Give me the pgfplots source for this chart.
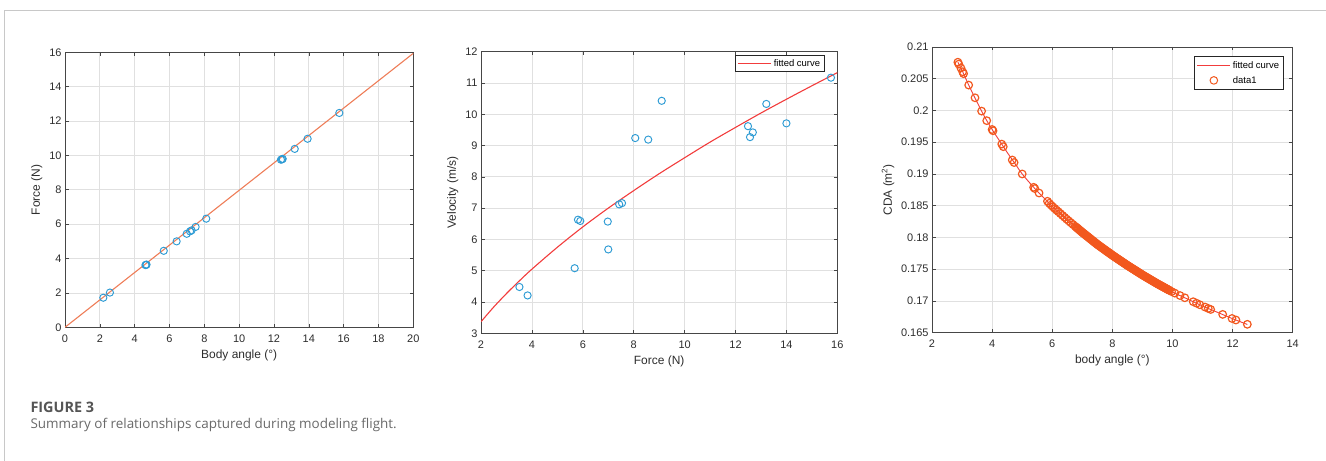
\documentclass[border=0pt]{standalone}
\usepackage{fontspec}
\setmainfont{Liberation Sans}
\newfontfamily\capfont{Open Sans}
\usepackage{pgfplots}
\usepackage{pgfplotstable}
\pgfplotsset{compat=1.18}
\definecolor{mblue}{RGB}{45,155,212}
\definecolor{lorange}{RGB}{238,125,88}
\definecolor{fitred}{RGB}{242,60,60}
\definecolor{dorange}{RGB}{242,88,30}
\definecolor{gridc}{RGB}{224,224,224}
\definecolor{axc}{RGB}{70,70,70}
\definecolor{tickc}{RGB}{45,45,45}
\definecolor{framec}{RGB}{200,200,200}

\pgfplotstableread[row sep=\\]{
x y\\
2.20 1.72\\ 2.58 2.02\\ 4.62 3.62\\ 4.68 3.65\\ 4.66 3.63\\ 5.67 4.45\\ 6.41 5.00\\
6.99 5.44\\ 7.18 5.58\\ 7.27 5.64\\ 7.50 5.84\\ 8.11 6.32\\ 12.40 9.75\\ 12.50 9.80\\
12.46 9.77\\ 13.19 10.38\\ 13.93 10.97\\ 15.75 12.47\\
}\forcedata

\pgfplotstableread[row sep=\\]{
x y\\
3.51 4.48\\ 3.83 4.21\\ 5.68 5.08\\ 5.81 6.63\\ 5.90 6.59\\ 6.98 6.57\\ 7.00 5.68\\
7.43 7.12\\ 7.54 7.16\\ 8.06 9.24\\ 8.57 9.19\\ 9.10 10.43\\ 12.49 9.62\\ 12.57 9.27\\
12.68 9.42\\ 13.21 10.33\\ 14.00 9.71\\ 15.75 11.17\\
}\veldata

\pgfplotstableread[row sep=\\]{
x y\\
2.0 3.37\\ 2.5 3.84\\ 3.0 4.27\\ 3.5 4.67\\ 4.0 5.05\\ 5.0 5.75\\ 6.0 6.40\\ 7.0 7.00\\
8.0 7.56\\ 9.0 8.10\\ 10.0 8.61\\ 11.0 9.11\\ 12.0 9.58\\ 13.0 10.04\\ 14.0 10.48\\
15.0 10.91\\ 16.0 11.33\\
}\velfit

\pgfplotstableread[row sep=\\]{
x y\\
2.86 0.2076\\ 3.00 0.2063\\ 3.25 0.2037\\ 3.50 0.2013\\ 3.75 0.1990\\ 4.00 0.1970\\
4.25 0.1952\\ 4.50 0.1934\\ 4.75 0.1917\\ 5.00 0.1900\\ 5.25 0.1886\\ 5.50 0.1873\\
5.75 0.1861\\ 6.00 0.1849\\ 6.50 0.1828\\ 7.00 0.1808\\ 7.50 0.1789\\ 8.00 0.1772\\
8.50 0.1756\\ 9.00 0.1741\\ 9.50 0.1727\\ 10.00 0.1714\\ 10.50 0.1703\\ 11.00 0.1692\\
11.50 0.1682\\ 12.00 0.1672\\ 12.49 0.1663\\
}\cdafit

\pgfplotstableread[row sep=\\]{
x y\\
2.86 0.2076\\ 2.89 0.2073\\ 2.96 0.2067\\ 3.02 0.2061\\ 3.05 0.2058\\ 3.22 0.2040\\
3.43 0.2020\\ 3.65 0.1999\\ 3.82 0.1984\\ 4.00 0.1970\\ 4.03 0.1968\\ 4.32 0.1947\\
4.37 0.1943\\ 4.67 0.1922\\ 4.73 0.1918\\ 5.00 0.1900\\ 5.38 0.1879\\ 5.42 0.1877\\
5.56 0.1870\\ 5.84 0.1857\\
5.90 0.18538\\ 5.96 0.18509\\ 6.02 0.18482\\ 6.08 0.18456\\ 6.14 0.18431\\ 6.20 0.18406\\
6.27 0.18377\\ 6.34 0.18347\\ 6.41 0.18318\\ 6.48 0.18288\\ 6.55 0.18260\\ 6.62 0.18232\\
6.69 0.18204\\ 6.76 0.18176\\
6.80 0.18160\\ 6.85 0.18140\\ 6.90 0.18120\\ 6.95 0.18100\\ 7.00 0.18080\\ 7.05 0.18061\\
7.10 0.18042\\ 7.15 0.18023\\ 7.20 0.18004\\ 7.25 0.17985\\ 7.30 0.17966\\ 7.35 0.17947\\
7.40 0.17928\\ 7.45 0.17909\\ 7.50 0.17890\\ 7.55 0.17873\\ 7.60 0.17856\\ 7.65 0.17839\\
7.70 0.17822\\ 7.75 0.17805\\ 7.80 0.17788\\ 7.85 0.17771\\ 7.90 0.17754\\ 7.95 0.17737\\
8.00 0.17720\\ 8.05 0.17704\\ 8.10 0.17688\\ 8.15 0.17672\\ 8.20 0.17656\\ 8.25 0.17640\\
8.30 0.17624\\ 8.35 0.17608\\ 8.40 0.17592\\ 8.45 0.17576\\ 8.50 0.17560\\ 8.55 0.17545\\
8.60 0.17530\\ 8.65 0.17515\\ 8.70 0.17500\\ 8.75 0.17485\\ 8.80 0.17470\\ 8.85 0.17455\\
8.90 0.17440\\ 8.95 0.17425\\ 9.00 0.17410\\ 9.05 0.17396\\ 9.10 0.17382\\ 9.15 0.17368\\
9.20 0.17354\\ 9.25 0.17340\\ 9.30 0.17326\\ 9.35 0.17312\\ 9.40 0.17298\\ 9.45 0.17284\\
9.50 0.17270\\ 9.55 0.17257\\ 9.60 0.17244\\ 9.65 0.17231\\ 9.70 0.17218\\ 9.75 0.17205\\
9.80 0.17192\\ 9.85 0.17179\\ 9.90 0.17166\\
6.825 0.18150\\ 6.875 0.18130\\ 6.925 0.18110\\ 6.975 0.18090\\ 7.025 0.18070\\
7.075 0.18052\\ 7.125 0.18033\\ 7.175 0.18014\\ 7.225 0.17995\\ 7.275 0.17976\\
7.325 0.17957\\ 7.375 0.17938\\ 7.425 0.17919\\ 7.475 0.17900\\ 7.525 0.17882\\
7.575 0.17865\\ 7.625 0.17848\\ 7.675 0.17831\\ 7.725 0.17814\\ 7.775 0.17797\\
7.825 0.17780\\ 7.875 0.17763\\ 7.925 0.17746\\ 7.975 0.17729\\ 8.025 0.17712\\
8.075 0.17696\\ 8.125 0.17680\\ 8.175 0.17664\\ 8.225 0.17648\\ 8.275 0.17632\\
8.325 0.17616\\ 8.375 0.17600\\ 8.425 0.17584\\ 8.475 0.17568\\ 8.525 0.17553\\
8.575 0.17538\\ 8.625 0.17523\\ 8.675 0.17508\\ 8.725 0.17493\\ 8.775 0.17478\\
8.825 0.17463\\ 8.875 0.17448\\ 8.925 0.17433\\ 8.975 0.17418\\ 9.025 0.17403\\
9.075 0.17389\\ 9.125 0.17375\\ 9.175 0.17361\\ 9.225 0.17347\\ 9.275 0.17333\\
9.325 0.17319\\ 9.375 0.17305\\ 9.425 0.17291\\ 9.475 0.17277\\ 9.525 0.17264\\
9.575 0.17251\\ 9.625 0.17238\\ 9.675 0.17225\\ 9.725 0.17212\\ 9.775 0.17199\\
9.825 0.17186\\ 9.875 0.17173\\
9.97 0.17148\\ 10.08 0.17123\\ 10.25 0.17085\\ 10.41 0.17050\\ 10.69 0.16988\\
10.80 0.16964\\ 10.91 0.16940\\ 11.08 0.16904\\ 11.19 0.16882\\ 11.27 0.16866\\
11.67 0.16788\\ 11.98 0.16724\\ 12.11 0.16700\\ 12.49 0.16632\\
}\cdadata

\pgfplotsset{
  mstyle/.style={
    scale only axis,
    anchor=south west,
    axis line style={axc, line width=0.7bp},
    grid=major,
    major grid style={gridc, line width=0.7bp},
    tick align=inside,
    tick pos=both,
    major tick length=3.5bp,
    every tick/.style={axc, line width=0.6bp},
    tick label style={font=\fontsize{11}{12}\selectfont, text=tickc},
    xticklabel style={yshift=-4bp},
    label style={font=\fontsize{12}{13}\selectfont, text=tickc},
    /pgf/number format/assume math mode=true,
    scaled ticks=false,
    legend cell align=left,
    legend style={draw=none, fill=white,
      font=\fontsize{9.5}{11}\selectfont, inner xsep=2bp, inner ysep=1.5bp,
      row sep=0bp},
  },
  mk/.style={only marks, mark=o, mark size=3.6bp, line width=0.95bp},
}

\begin{document}
\begin{tikzpicture}[x=1bp,y=1bp]
\path[use as bounding box] (0,0) rectangle (1326,461);
\draw[framec, line width=1bp] (4,450) -- (1326,450);
\draw[framec, line width=1bp] (4,450) -- (4,0);

% Panel 1
\begin{axis}[mstyle, at={(65bp,133.7bp)}, width=348.3bp, height=275bp,
  xmin=0, xmax=20, ymin=0, ymax=16,
  xtick={0,2,...,20}, ytick={0,2,...,16},
  xlabel={Body angle (°)}, ylabel={Force (N)}]
\addplot[mk, draw=mblue] table[x=x,y=y] {\forcedata};
\addplot[draw=lorange, line width=1.1bp] coordinates {(0,0) (20,15.94)};
\end{axis}

% Panel 2
\begin{axis}[mstyle, at={(481bp,127.7bp)}, width=356.3bp, height=281.6bp,
  xmin=2, xmax=16, ymin=3, ymax=12,
  xtick={2,4,...,16}, ytick={3,4,...,12},
  xlabel={Force (N)}, ylabel={Velocity (m/s)},
  legend style={at={(1,1)}, anchor=north east, xshift=-13bp, yshift=-4bp, name=legA}]
\addplot[mk, draw=mblue, forget plot] table[x=x,y=y] {\veldata};
\addplot[color=fitred, line width=1.1bp, smooth,
  legend image code/.code={\draw[draw=fitred, line width=1.1bp] (0bp,0bp) -- (33bp,0bp);}]
  table[x=x,y=y] {\velfit};
\addlegendentry{fitted curve}
\end{axis}
\draw[black!85, line width=0.6bp] (legA.south west) rectangle (legA.north east);

% Panel 3
\begin{axis}[mstyle, at={(932bp,128.3bp)}, width=360.7bp, height=285.7bp,
  xmin=2, xmax=14, ymin=0.165, ymax=0.21,
  xtick={2,4,...,14},
  ytick={0.165,0.17,0.175,0.18,0.185,0.19,0.195,0.2,0.205,0.21},
  yticklabels={0.165,0.17,0.175,0.18,0.185,0.19,0.195,0.2,0.205,0.21},
  xlabel={body angle (°)}, ylabel={CDA (m\textsuperscript{2})},
  legend style={at={(1,1)}, anchor=north east, xshift=-9.4bp, yshift=-9.7bp,
    row sep=2.5bp, inner ysep=2.5bp, name=legB}]
\addplot[color=fitred, line width=0.9bp, smooth,
  legend image code/.code={\draw[draw=fitred, line width=1bp] (0bp,0bp) -- (33bp,0bp);}]
  table[x=x,y=y] {\cdafit};
\addlegendentry{fitted curve}
\addplot[mk, color=dorange, mark size=3.8bp, line width=1.2bp,
  legend image code/.code={\draw[draw=dorange, line width=1bp] (16.5bp,0bp) circle[radius=3.8bp];}]
  table[x=x,y=y] {\cdadata};
\addlegendentry{data1}
\end{axis}
\draw[black!85, line width=0.6bp] (legB.south west) rectangle (legB.north east);

\node[anchor=base west, font=\capfont\bfseries\fontsize{14.5}{16}\selectfont, text={rgb,255:red,85;green,85;blue,85}] at (27,48) {FIGURE 3};
\node[anchor=base west, font=\capfont\fontsize{13.5}{16}\selectfont, text={rgb,255:red,105;green,105;blue,105}] at (27,32) {Summary of relationships captured during modeling flight.};
\end{tikzpicture}
\end{document}
